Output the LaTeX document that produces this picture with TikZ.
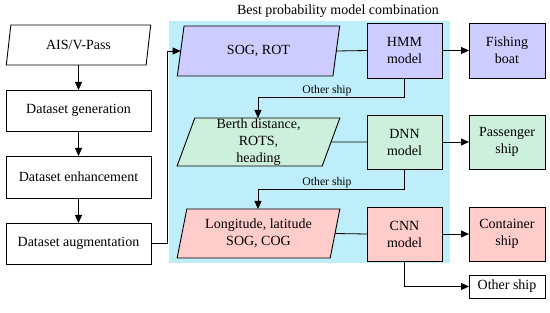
\documentclass[tikz,border=0pt]{standalone}
\usepackage{fontspec}
\setmainfont{Liberation Serif}
\usetikzlibrary{shapes.geometric,arrows.meta}
\definecolor{bgblue}{HTML}{BDEEFA}
\definecolor{cpurple}{HTML}{CCCCFF}
\definecolor{cgreen}{HTML}{CCF0DC}
\definecolor{cpink}{HTML}{FFCCCC}
\begin{document}
\begin{tikzpicture}[x=1pt,y=-1pt,font=\fontsize{14}{17}\selectfont,
  box/.style={draw,line width=0.9pt,inner sep=0pt,outer sep=0pt,align=center},
  para/.style={trapezium,trapezium stretches=true,draw,line width=0.9pt,inner sep=0pt,outer sep=0pt,align=center},
  arr/.style={line width=0.8pt,-{Triangle[length=8pt,width=7pt]}},
  ln/.style={line width=0.8pt},
  lbl/.style={font=\fontsize{11.7}{14}\selectfont,inner sep=1pt}]
\useasboundingbox (0,0) rectangle (550,313);
\fill[white] (0,0) rectangle (550,313);
\fill[bgblue] (169,21) rectangle (450,263);
\node (title) at (338,11) {Best probability model combination};
% left column
\node[para,trapezium left angle=77,trapezium right angle=103,minimum width=145pt,minimum height=40pt] (ais) at (78.5,45) {AIS/V-Pass};
\node[box,minimum width=145pt,minimum height=41pt] (gen) at (78.5,110.5) {Dataset generation};
\node[box,minimum width=145pt,minimum height=42pt] (enh) at (78.5,177) {Dataset enhancement};
\node[box,minimum width=145pt,minimum height=41pt] (aug) at (78.5,243.5) {Dataset augmentation};
% features
\node[para,fill=cpurple,trapezium left angle=76,trapezium right angle=104,minimum width=163pt,minimum height=50pt] (sog) at (258.5,51) {SOG, ROT};
\node[para,fill=cgreen,trapezium left angle=76,trapezium right angle=104,minimum width=163pt,minimum height=48pt] (grn) at (258.5,142) {Berth distance,\\ROTS,\\heading};
\node[para,fill=cpink,trapezium left angle=76,trapezium right angle=104,minimum width=163pt,minimum height=49pt] (pnk) at (258.5,233.5) {Longitude, latitude\\SOG, COG};
% models
\node[box,fill=cpurple,minimum width=75pt,minimum height=55pt] (hmm) at (404.5,50.5) {HMM\\model};
\node[box,fill=cgreen,minimum width=75pt,minimum height=54pt] (dnn) at (404.5,142) {DNN\\model};
\node[box,fill=cpink,minimum width=75pt,minimum height=54pt] (cnn) at (404.5,234) {CNN\\model};
% outputs
\node[box,fill=cpurple,minimum width=76pt,minimum height=55pt] (fish) at (507,50.5) {Fishing\\boat};
\node[box,fill=cgreen,minimum width=76pt,minimum height=54pt] (pass) at (507,142) {Passenger\\ship};
\node[box,fill=cpink,minimum width=76pt,minimum height=54pt] (cont) at (507,234) {Container\\ship};
\node[box,minimum width=76pt,minimum height=23pt] (oth) at (507,286.5) {Other ship};
% left arrows
\draw[arr] (ais) -- (gen);
\draw[arr] (gen) -- (enh);
\draw[arr] (enh) -- (aug);
\coordinate (c1) at (167,0);
\draw[arr] (aug.east) -- (aug.east -| c1) |- (sog.west);
% feature to model
\draw[ln] (sog.east) -- (hmm.west);
\draw[ln] (grn.east) -- (dnn.west);
\draw[ln] (pnk.east) -- (cnn.west);
% model to output
\draw[arr] (hmm) -- (fish);
\draw[arr] (dnn) -- (pass);
\draw[arr] (cnn) -- (cont);
\draw[arr] (cnn.south) |- (oth.west);
% other ship loops
\coordinate (o1) at (258,97);
\coordinate (o2) at (258,189);
\draw[arr] (hmm.south) |- (o1) -- (o1 |- grn.north);
\draw[arr] (dnn.south) |- (o2) -- (o2 |- pnk.north);
\node[lbl,anchor=south] (l1) at (327,97) {Other ship};
\node[lbl,anchor=south] (l2) at (327,189) {Other ship};
\end{tikzpicture}
\end{document}
